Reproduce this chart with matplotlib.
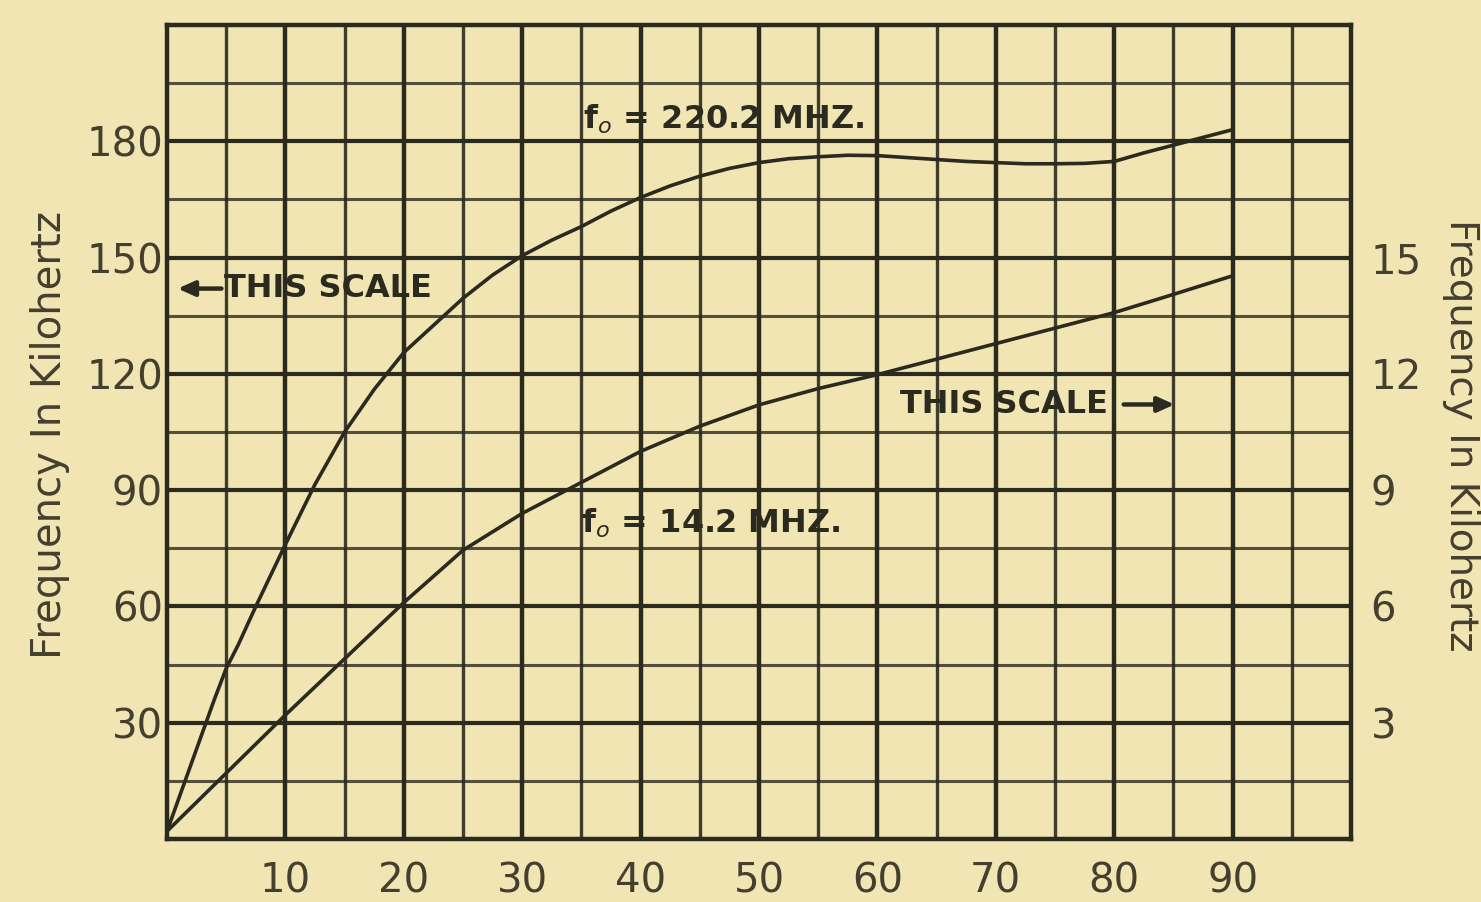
import matplotlib
matplotlib.use("Agg")
import matplotlib.pyplot as plt

# ---- data ----
x_upper = [0, 1, 2, 3, 4, 5, 6, 7.5, 10, 12.5, 15, 17.5, 20, 22.5, 25, 27.5, 30,
           32.5, 35, 37.5, 40, 42.5, 45, 47.5, 50, 52.5, 55, 57.5, 60, 62.5, 65,
           67.5, 70, 72.5, 75, 77.5, 80, 82.5, 85, 87.5, 90]
y_upper = [2, 10.5, 19, 27.5, 36, 44, 50, 60, 76, 91.5, 105, 116, 125.5, 132.5,
           139.5, 145.5, 150.5, 154.5, 158, 162, 165.5, 168.5, 171, 173, 174.5,
           175.5, 176, 176.4, 176.3, 175.8, 175.3, 174.8, 174.5, 174.2, 174.2,
           174.3, 174.8, 177, 179, 181, 183]

x_lower = [0, 5, 10, 15, 20, 25, 30, 35, 40, 45, 50, 55, 60, 65, 70, 75, 80, 85, 90]
y_lower_khz = [0.2, 1.7, 3.2, 4.65, 6.1, 7.45, 8.4, 9.2, 10.0, 10.65, 11.2, 11.62,
               11.98, 12.38, 12.78, 13.18, 13.58, 14.05, 14.53]

x_ticks = [10, 20, 30, 40, 50, 60, 70, 80, 90]
left_ticks = [30, 60, 90, 120, 150, 180]
right_ticks = [3, 6, 9, 12, 15]

label_upper = "f$_o$ = 220.2 MHZ."
label_lower = "f$_o$ = 14.2 MHZ."
note_text = "THIS SCALE"
axis_label = "Frequency In Kilohertz"

# ---- style ----
BG = "#f1e5b3"
INK = "#2b2a1f"
TXT = "#453f30"

W, H = 1481, 902
fig = plt.figure(figsize=(W / 100, H / 100), dpi=100, facecolor=BG)
ax = fig.add_axes([167 / W, (H - 839) / H, (1351 - 167) / W, (839 - 25) / H])
ax.set_facecolor(BG)
ax.set_xlim(0, 100)
ax.set_ylim(0, 210)

# grid
ax.set_xticks(x_ticks)
ax.set_xticks([v for v in range(5, 100, 10)], minor=True)
ax.set_yticks(left_ticks)
ax.set_yticks([15, 45, 75, 105, 135, 165, 195], minor=True)
ax.grid(which="major", axis="x", color=INK, lw=3.2, zorder=1)
ax.grid(which="minor", axis="x", color=INK, lw=2.4, alpha=0.9, zorder=1)
ax.grid(which="major", axis="y", color=INK, lw=3.0, zorder=1)
ax.grid(which="minor", axis="y", color=INK, lw=2.2, alpha=0.8, zorder=1)
for s in ax.spines.values():
    s.set_color(INK)
    s.set_linewidth(3.2)

ax.tick_params(which="both", length=0)
ax.tick_params(axis="x", labelsize=29, pad=16, labelcolor=TXT)
ax.tick_params(axis="y", labelsize=29, pad=3, labelcolor=TXT)

# curves
ax.plot(x_upper, y_upper, color=INK, lw=2.6, zorder=3, solid_capstyle="round")

ax2 = ax.twinx()
ax2.set_ylim(0, 21)
ax2.set_yticks(right_ticks)
ax2.tick_params(which="both", length=0, labelsize=29, pad=14, labelcolor=TXT)
for s in ax2.spines.values():
    s.set_visible(False)
ax2.plot(x_lower, y_lower_khz, color=INK, lw=2.6, zorder=3, solid_capstyle="round")

# annotations
tkw = dict(fontsize=23, fontweight="bold", color=INK, zorder=4)
ax.text(35.1, 185.6, label_upper, ha="left", va="center", **tkw)
ax.text(35.0, 81.4, label_lower, ha="left", va="center", **tkw)
ax.text(4.85, 142, note_text, ha="left", va="center", **tkw)
ax.text(61.9, 112.1, note_text, ha="left", va="center", **tkw)

akw = dict(arrowstyle="-|>,head_length=1.0,head_width=0.45", color=INK, lw=3.2,
           shrinkA=0, shrinkB=0)
ax.annotate("", xy=(0.9, 142), xytext=(4.6, 142), arrowprops=akw, zorder=4)
ax.annotate("", xy=(85.1, 112.1), xytext=(80.8, 112.1), arrowprops=akw, zorder=4)

# axis labels
fig.text(50 / W, (H - 435) / H, axis_label, rotation=90, ha="center", va="center",
         fontsize=29, color=TXT)
fig.text(1461 / W, (H - 435) / H, axis_label, rotation=270, ha="center", va="center",
         fontsize=28, color=TXT)

fig.savefig("out.png", dpi=100, facecolor=BG)
